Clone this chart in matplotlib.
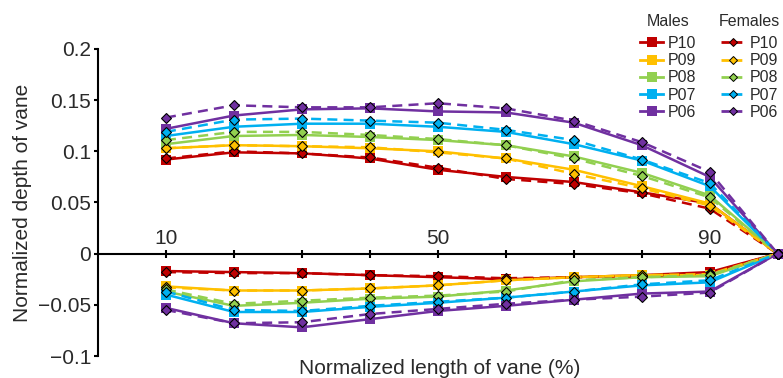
import matplotlib
matplotlib.use('Agg')
import matplotlib.pyplot as plt
from matplotlib.lines import Line2D

plt.rcParams['font.family'] = ['Liberation Sans', 'DejaVu Sans']

# normalized length of vane (%)
x = [10, 20, 30, 40, 50, 60, 70, 80, 90, 100]
labels = ['P10', 'P09', 'P08', 'P07', 'P06']

# upper side (positive depth), males
male_up = {
    'P10': [0.092, 0.099, 0.098, 0.093, 0.082, 0.075, 0.070, 0.060, 0.049, 0],
    'P09': [0.103, 0.106, 0.105, 0.103, 0.100, 0.093, 0.082, 0.066, 0.049, 0],
    'P08': [0.107, 0.115, 0.116, 0.114, 0.111, 0.106, 0.095, 0.079, 0.057, 0],
    'P07': [0.115, 0.124, 0.127, 0.127, 0.124, 0.119, 0.107, 0.091, 0.066, 0],
    'P06': [0.122, 0.135, 0.141, 0.142, 0.139, 0.138, 0.128, 0.106, 0.075, 0],
}
female_up = {
    'P10': [0.093, 0.100, 0.098, 0.094, 0.084, 0.073, 0.068, 0.059, 0.044, 0],
    'P09': [0.103, 0.106, 0.105, 0.104, 0.099, 0.093, 0.078, 0.064, 0.047, 0],
    'P08': [0.111, 0.119, 0.119, 0.116, 0.112, 0.106, 0.093, 0.076, 0.055, 0],
    'P07': [0.119, 0.131, 0.132, 0.130, 0.128, 0.121, 0.111, 0.092, 0.069, 0],
    'P06': [0.133, 0.145, 0.143, 0.143, 0.147, 0.142, 0.130, 0.109, 0.080, 0],
}
# lower side (negative depth)
male_low = {
    'P10': [-0.017, -0.018, -0.019, -0.021, -0.023, -0.025, -0.023, -0.021, -0.018, 0],
    'P09': [-0.032, -0.036, -0.036, -0.034, -0.031, -0.026, -0.023, -0.021, -0.021, 0],
    'P08': [-0.037, -0.051, -0.048, -0.044, -0.042, -0.036, -0.027, -0.023, -0.022, 0],
    'P07': [-0.040, -0.057, -0.057, -0.052, -0.048, -0.043, -0.037, -0.031, -0.028, 0],
    'P06': [-0.053, -0.068, -0.072, -0.064, -0.056, -0.051, -0.045, -0.039, -0.037, 0],
}
female_low = {
    'P10': [-0.018, -0.019, -0.019, -0.021, -0.022, -0.024, -0.023, -0.022, -0.019, 0],
    'P09': [-0.033, -0.036, -0.036, -0.034, -0.031, -0.026, -0.023, -0.021, -0.020, 0],
    'P08': [-0.035, -0.049, -0.046, -0.043, -0.041, -0.037, -0.026, -0.023, -0.021, 0],
    'P07': [-0.037, -0.055, -0.056, -0.051, -0.047, -0.043, -0.037, -0.030, -0.026, 0],
    'P06': [-0.055, -0.068, -0.067, -0.059, -0.054, -0.049, -0.045, -0.042, -0.038, 0],
}

colors = {'P10': '#C00000', 'P09': '#FFC000', 'P08': '#92D050',
          'P07': '#00B0F0', 'P06': '#7030A0'}

yticks = [-0.1, -0.05, 0, 0.05, 0.1, 0.15, 0.2]
ytick_labels = ['\u22120.1', '\u22120.05', '0', '0.05', '0.1', '0.15', '0.2']
xtick_labels = ['10', '', '', '', '50', '', '', '', '90', '']

fig = plt.figure(figsize=(7.83, 3.78), dpi=100)
ax = fig.add_axes([98 / 783, 1 - 356 / 378, (781 - 98) / 783, (356 - 49) / 378])

txt = '#2a2a2a'

# males first, females on top
for data in (male_up, male_low):
    for name in labels:
        ax.plot(x, data[name], '-', color=colors[name], lw=1.8, marker='s',
                markersize=7.5, markeredgewidth=0, clip_on=False, zorder=3)
for data in (female_up, female_low):
    for name in labels:
        ax.plot(x, data[name], '--', color=colors[name], lw=1.8, dashes=(4, 2.5),
                marker='D', markersize=5.5, markeredgecolor='black',
                markeredgewidth=0.8, clip_on=False, zorder=4)

ax.set_xlim(0, 100.5)
ax.set_ylim(-0.1, 0.2)

ax.spines['right'].set_visible(False)
ax.spines['bottom'].set_visible(False)
ax.spines['top'].set_position(('data', 0))
ax.spines['top'].set_linewidth(1.5)
ax.spines['left'].set_linewidth(1.5)
ax.spines['top'].set_zorder(1)

ax.xaxis.set_ticks_position('top')
ax.set_xticks(x)
ax.set_xticklabels(xtick_labels)
ax.tick_params(axis='x', direction='inout', length=6, width=1.5, pad=1,
               labelsize=15, labelcolor=txt)
ax.set_yticks(yticks)
ax.set_yticklabels(ytick_labels)
ax.tick_params(axis='y', direction='out', length=3, width=1.5, pad=2,
               labelsize=15, labelcolor=txt)

ax.set_ylabel('Normalized depth of vane', fontsize=15, color=txt, labelpad=4)
ax.xaxis.set_label_position('bottom')
ax.set_xlabel('Normalized length of vane (%)', fontsize=15, color=txt, labelpad=2)

male_handles = [Line2D([], [], color=colors[n], lw=2, marker='s', markersize=7,
                       markeredgewidth=0) for n in labels]
female_handles = [Line2D([], [], color=colors[n], lw=2, ls='--', dashes=(3, 1.5),
                         marker='D', markersize=4, markeredgecolor='black',
                         markeredgewidth=0.7) for n in labels]

leg_kw = dict(frameon=False, fontsize=11.5, title_fontsize=11.5, handlelength=1.45,
              handletextpad=0.3, labelspacing=0.14, borderpad=0, borderaxespad=0,
              labelcolor=txt)
leg1 = fig.legend(male_handles, labels, title='Males', loc='upper left',
                  bbox_to_anchor=(640 / 783, 1 - 14 / 378), **leg_kw)
leg2 = fig.legend(female_handles, labels, title='Females', loc='upper left',
                  bbox_to_anchor=(719 / 783, 1 - 14 / 378), **leg_kw)
for lg in (leg1, leg2):
    lg.get_title().set_color(txt)
    lg._legend_box.sep = 5

fig.savefig('out.png', dpi=100)
